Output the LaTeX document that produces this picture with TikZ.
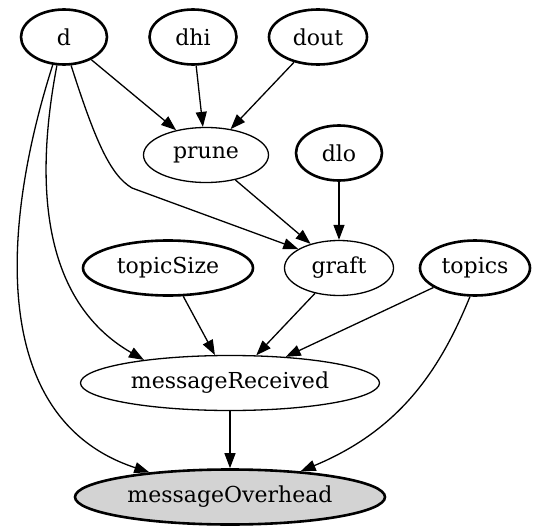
\documentclass[tikz,border=0pt]{standalone}
\usepackage{fontspec}
\setmainfont{DejaVu Serif}
\usepackage{tikz}
\usetikzlibrary{shapes.geometric,arrows.meta}
\definecolor{ovgray}{HTML}{D3D3D3}
\tikzset{
  varnode/.style={ellipse,draw,line width=2.6pt,inner sep=0pt,minimum height=55pt},
  calcnode/.style={ellipse,draw,line width=1.3pt,inner sep=0pt,minimum height=55pt},
  edge/.style={line width=1.3pt,-{Triangle[length=15pt,width=11pt]}}
}

\begin{document}
\begin{tikzpicture}[x=1pt,y=-1pt,font=\fontsize{22}{26}\selectfont]
    \useasboundingbox (0,0) rectangle (536,527);
    \node[varnode,minimum width=86pt] (D) at (64,37) {d};
    \node[varnode,minimum width=87pt] (Dhi) at (193,37) {dhi};
    \node[varnode,minimum width=98pt] (Dout) at (318,37) {dout};
    \node[calcnode,minimum width=125pt] (Prune) at (206,155) {prune};
    \node[varnode,minimum width=86pt] (Dlo) at (339,153) {dlo};
    \node[varnode,minimum width=170pt] (TopicSize) at (168,268) {topicSize};
    \node[calcnode,minimum width=109pt] (Graft) at (339,268) {graft};
    \node[varnode,minimum width=110pt] (Topics) at (475,268) {topics};
    \node[calcnode,minimum width=299pt] (MsgRecv) at (230,383) {messageReceived};
    \node[varnode,fill=ovgray,minimum width=310pt] (MsgOver) at (230,497) {messageOverhead};

    \draw[edge] (D)--(Prune);
    \draw[edge] (Dhi)--(Prune);
    \draw[edge] (Dout)--(Prune);
    \draw[edge] (Prune)--(Graft);
    \draw[edge] (Dlo)--(Graft);
    \draw[edge] (D.284) .. controls (95,140) and (110,175) .. (132,188) -- (Graft.155);
    \draw[edge] (D.256) .. controls (35,180) and (40,300) .. (MsgRecv.165);
    \draw[edge] (D.248) .. controls (0,230) and (-10,420) .. (MsgOver.163);
    \draw[edge] (TopicSize)--(MsgRecv);
    \draw[edge] (Graft)--(MsgRecv);
    \draw[edge] (Topics)--(MsgRecv);
    \draw[edge] (Topics.260) .. controls (440,370) and (400,430) .. (MsgOver.20);
    \draw[edge] (MsgRecv)--(MsgOver);
\end{tikzpicture}
\end{document}
